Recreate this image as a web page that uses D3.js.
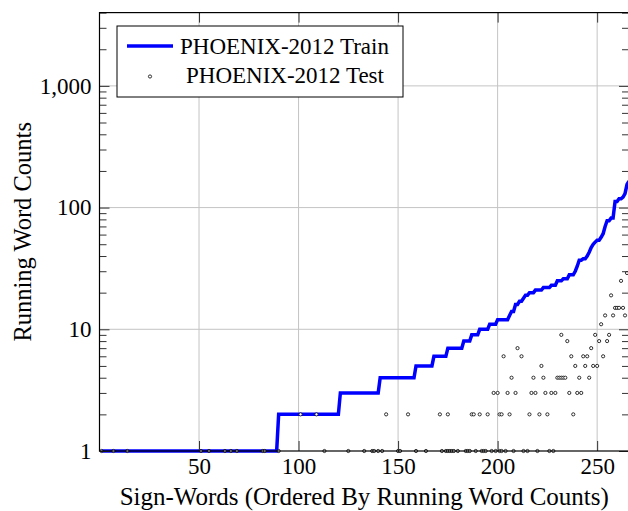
<!DOCTYPE html>
<html>
<head>
<meta charset="utf-8">
<script src="https://cdn.jsdelivr.net/npm/d3@7"></script>
<style>
  body { margin: 0; background: #fff; }
  svg { display: block; font-family: 'Liberation Serif', 'Times New Roman', serif; }
</style>
</head>
<body>
<svg width="628" height="511"></svg>
<script>
// train curve: value of each run and the sign-word index where it starts
const trainValue = [1, 2, 3, 4, 5, 6, 7, 8, 9, 10, 11, 12, 13, 14, 16, 17, 18, 19, 20, 21,
  22, 23, 25, 26, 28, 30, 33, 37, 38, 40, 43, 47, 50, 52, 54, 57, 61, 70, 78, 82,
  112, 118, 122, 130, 155, 165];
const trainStart = [1, 90, 121, 141, 159, 168, 175, 183, 187, 191, 196, 200, 206, 207, 209, 211, 213, 214, 216, 219,
  223, 227, 230, 233, 236, 239, 240, 241, 243, 245, 246, 247, 248, 249, 250, 252, 253, 254, 255, 257,
  259, 261, 263, 264, 265, 266];

// test counts: one level per row, with the indices found on it
const testLevels = [1, 2, 3, 4, 5, 6, 7, 8, 9, 11, 13, 15, 19, 25, 29];
const testIndices = [
  [1, 7, 14, 51, 55, 63, 66, 69, 82, 83, 90, 113, 125, 133, 137, 138, 140, 142, 150, 151, 159, 164,
    172, 174, 175, 176, 177, 178, 180, 184, 185, 186, 189, 192, 193, 194, 197, 199, 201, 202, 204,
    208, 213, 215, 220, 226, 228],
  [101, 109, 144, 155, 171, 175, 187, 188, 191, 195, 201, 202, 206, 216, 221, 225, 238],
  [198, 200, 205, 209, 217, 219, 224, 227, 229, 236, 240, 242],
  [207, 218, 223, 230, 231, 232, 233, 234, 241, 246],
  [222, 239, 244, 248, 250],
  [203, 212, 237, 243, 245, 253],
  [210, 247],
  [235, 251, 255],
  [232, 249, 256],
  [252],
  [254, 258, 264],
  [259, 260, 261, 263],
  [257],
  [262],
  [265]
];

const xTicks = [50, 100, 150, 200, 250];
const yTicks = [1, 10, 100, 1000];
const seriesNames = ['PHOENIX-2012 Train', 'PHOENIX-2012 Test'];

const svg = d3.select('svg');
const margin = { left: 99.5, right: 629, top: 12.6, bottom: 451 };

const xScale = d3.scaleLinear().domain([0, 266]).range([margin.left, margin.right]);
const yScale = d3.scaleLog().domain([1, 4000]).range([margin.bottom, margin.top]);

// minor ticks 2..9 in each decade
const yMinor = [];
[1, 10, 100, 1000].forEach((d) => {
  for (let k = 2; k <= 9; k++) if (d * k <= 4000) yMinor.push(d * k);
});

// grid
const grid = svg.append('g').attr('stroke', '#c4c4c4').attr('stroke-width', 1);
grid.selectAll('.gx').data(xTicks).enter().append('line')
  .attr('x1', (d) => xScale(d)).attr('x2', (d) => xScale(d))
  .attr('y1', margin.top).attr('y2', margin.bottom);
grid.selectAll('.gy').data(yTicks.slice(1)).enter().append('line')
  .attr('x1', margin.left).attr('x2', margin.right)
  .attr('y1', (d) => yScale(d)).attr('y2', (d) => yScale(d));

// train line
const trainPoints = [];
for (let j = 0; j < trainStart.length; j++) {
  const end = j + 1 < trainStart.length ? trainStart[j + 1] : trainStart[j] + 1;
  for (let i = trainStart[j]; i < end; i++) trainPoints.push([i, trainValue[j]]);
}
const line = d3.line().x((d) => xScale(d[0])).y((d) => yScale(d[1]));
svg.append('path')
  .datum(trainPoints)
  .attr('d', line)
  .attr('fill', 'none')
  .attr('stroke', '#0000ff')
  .attr('stroke-width', 3.5)
  .attr('stroke-linejoin', 'miter');

// test points
const testPoints = [];
testLevels.forEach((v, j) => testIndices[j].forEach((i) => testPoints.push([i, v])));
svg.append('g').selectAll('circle')
  .data(testPoints)
  .enter()
  .append('circle')
  .attr('cx', (d) => xScale(d[0]))
  .attr('cy', (d) => yScale(d[1]))
  .attr('r', 1.6)
  .attr('fill', '#fff')
  .attr('stroke', '#000')
  .attr('stroke-width', 0.8);

// axes, ticks pointing inward
const styleAxis = (g) => {
  g.select('.domain').remove();
  g.selectAll('.tick line').attr('stroke', '#333').attr('stroke-width', 1);
  g.selectAll('.tick text').attr('font-size', 23).attr('fill', '#000')
    .attr('font-family', "'Liberation Serif', serif");
};

svg.append('g')
  .attr('transform', `translate(0, ${margin.bottom})`)
  .call(d3.axisBottom(xScale).tickValues(xTicks).tickSize(-10).tickPadding(7))
  .call(styleAxis);
svg.append('g')
  .attr('transform', `translate(0, ${margin.top})`)
  .call(d3.axisTop(xScale).tickValues(xTicks).tickSize(-10).tickFormat(''))
  .call(styleAxis);

svg.append('g')
  .attr('transform', `translate(${margin.left}, 0)`)
  .call(d3.axisLeft(yScale).tickValues(yTicks).tickSize(-10).tickPadding(8).tickFormat(d3.format(',')))
  .call(styleAxis);
svg.append('g')
  .attr('transform', `translate(${margin.left}, 0)`)
  .call(d3.axisLeft(yScale).tickValues(yMinor).tickSize(-7).tickFormat(''))
  .call(styleAxis);
svg.append('g')
  .attr('transform', `translate(${margin.right}, 0)`)
  .call(d3.axisRight(yScale).tickValues(yTicks).tickSize(-10).tickFormat(''))
  .call(styleAxis);
svg.append('g')
  .attr('transform', `translate(${margin.right}, 0)`)
  .call(d3.axisRight(yScale).tickValues(yMinor).tickSize(-7).tickFormat(''))
  .call(styleAxis);

// frame
svg.append('rect')
  .attr('x', margin.left).attr('y', margin.top)
  .attr('width', margin.right - margin.left)
  .attr('height', margin.bottom - margin.top)
  .attr('fill', 'none').attr('stroke', '#000').attr('stroke-width', 1.2);

// axis labels
svg.append('text')
  .attr('x', (margin.left + margin.right) / 2)
  .attr('y', 505)
  .attr('text-anchor', 'middle')
  .attr('font-size', 25)
  .text('Sign-Words (Ordered By Running Word Counts)');
svg.append('text')
  .attr('transform', `translate(31, ${(margin.top + margin.bottom) / 2}) rotate(-90)`)
  .attr('text-anchor', 'middle')
  .attr('font-size', 24.5)
  .text('Running Word Counts');

// legend
const legend = svg.append('g');
legend.append('rect')
  .attr('x', 117).attr('y', 26).attr('width', 286).attr('height', 71)
  .attr('fill', '#fff').attr('stroke', '#000').attr('stroke-width', 1);
legend.append('line')
  .attr('x1', 127).attr('x2', 173).attr('y1', 46).attr('y2', 46)
  .attr('stroke', '#0000ff').attr('stroke-width', 3.5);
legend.append('circle')
  .attr('cx', 150).attr('cy', 76.5).attr('r', 1.6)
  .attr('fill', '#fff').attr('stroke', '#000').attr('stroke-width', 0.8);
legend.append('text').attr('x', 180).attr('y', 53.5).attr('font-size', 23).text(seriesNames[0]);
legend.append('text').attr('x', 186).attr('y', 83).attr('font-size', 23).text(seriesNames[1]);
</script>
</body>
</html>
